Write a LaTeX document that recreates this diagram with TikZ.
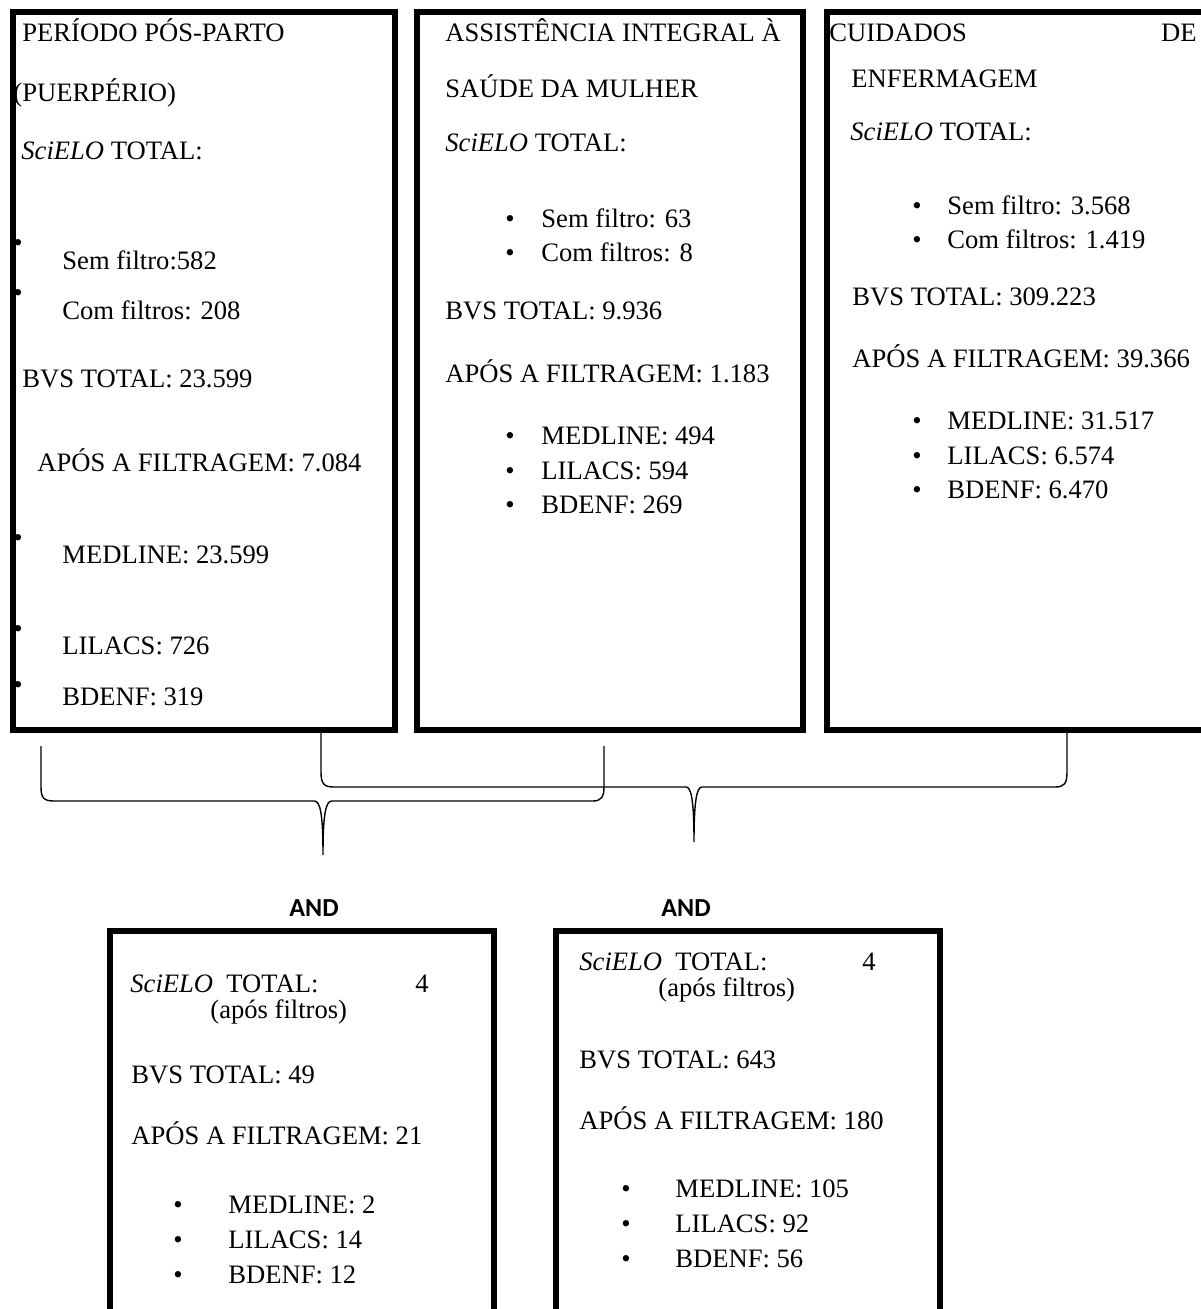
\documentclass[tikz,border=0pt]{standalone}
\usepackage{fontspec}
\setmainfont{Liberation Serif}
\newfontfamily\andfont{Carlito}
\usetikzlibrary{positioning}

\begin{document}
\begin{tikzpicture}[
    x=0.5pt, y=-0.5pt,
    every node/.style={font=\fontsize{13.3}{16}\selectfont},
    frame/.style={draw, line width=3pt, inner sep=0pt, minimum width=192pt},
    txt/.style={anchor=base west, inner sep=0pt},
    bul/.style={anchor=base, inner sep=0pt},
    andlabel/.style={anchor=base, inner sep=0pt, font=\andfont\bfseries\fontsize{13}{16}\selectfont},
    brace/.style={line width=0.7pt}
]
\useasboundingbox (0,0) rectangle (1200,1309);

% Search term boxes
\node[frame, minimum width=191pt, minimum height=358.5pt] (puerp) at (203.5,371) {};
\node[frame, minimum width=193pt, minimum height=358.5pt] (saude) at (609.5,371) {};
\node[frame, minimum width=194.25pt, minimum height=358.5pt] (cuidados) at (1020.75,371) {};

% Periodo pos-parto
\node[txt] (p1) at (22,42) {PERÍODO PÓS-PARTO};
\node[txt] (p2) at (13,102) {(PUERPÉRIO)};
\node[txt] (p3) at (21,160) {\textit{SciELO} TOTAL:};
\node[bul] (pb1) at (18,252) {•};
\node[txt] (p4) at (62,270) {Sem filtro:582};
\node[bul] (pb2) at (18,302) {•};
\node[txt] (p5) at (62,320) {Com filtros: 208};
\node[txt] (p6) at (22,388) {BVS TOTAL: 23.599};
\node[txt] (p7) at (37,472) {APÓS A FILTRAGEM: 7.084};
\node[bul] (pb3) at (18,546) {•};
\node[txt] (p8) at (62,563) {MEDLINE: 23.599};
\node[bul] (pb4) at (18,637) {•};
\node[txt] (p9) at (62,654) {LILACS: 726};
\node[bul] (pb5) at (18,693) {•};
\node[txt] (p10) at (62,705) {BDENF: 319};

% Assistencia integral
\node[txt] (s1) at (445,42) {ASSISTÊNCIA INTEGRAL À};
\node[txt] (s2) at (445,98) {SAÚDE DA MULHER};
\node[txt] (s3) at (445,152) {\textit{SciELO} TOTAL:};
\foreach \y/\t [count=\i] in {228/Sem filtro: 63, 262/Com filtros: 8, 445/MEDLINE: 494, 480/LILACS: 594, 513/BDENF: 269} {
  \node[bul] (sb\i) at (510,\y) {•};
  \node[txt] (sl\i) at (541,\y) {\t};
}
\node[txt] (s4) at (445,320) {BVS TOTAL: 9.936};
\node[txt] (s5) at (445,383) {APÓS A FILTRAGEM: 1.183};

% Cuidados de enfermagem
\node[txt] (c1) at (829,42) {CUIDADOS};
\node[anchor=base east, inner sep=0pt] (c1b) at (1197,42) {DE};
\node[txt] (c2) at (851,88) {ENFERMAGEM};
\node[txt] (c3) at (850,141) {\textit{SciELO} TOTAL:};
\foreach \y/\t [count=\i] in {215/Sem filtro: 3.568, 249/Com filtros: 1.419, 430/MEDLINE: 31.517, 465/LILACS: 6.574, 499/BDENF: 6.470} {
  \node[bul] (cb\i) at (917,\y) {•};
  \node[txt] (cl\i) at (947,\y) {\t};
}
\node[txt] (c4) at (852,306) {BVS TOTAL: 309.223};
\node[txt] (c5) at (852,368) {APÓS A FILTRAGEM: 39.366};

% Braces
\coordinate (tipA) at (323,855);
\coordinate (tipB) at (694,842);
\draw[brace] (41,746) -- (41,787) .. controls (41,798) and (44,801) .. (54,801) -- (314,801)
  .. controls (320,801) and (323,812) .. (tipA)
  .. controls (323,812) and (326,801) .. (332,801) -- (593,801)
  .. controls (601,801) and (604,797) .. (604,787) -- (604,746);
\draw[brace] (puerp.south -| 321,0) -- (321,772) .. controls (321,784) and (324,787) .. (334,787) -- (686,787)
  .. controls (691,787) and (694,799) .. (tipB)
  .. controls (694,799) and (697,787) .. (702,787) -- (1055,787)
  .. controls (1064,787) and (1067,784) .. (1067,772) -- (cuidados.south -| 1067,0);

% Combined searches
\node[andlabel] (and1) at (314,916) {AND};
\node[andlabel] (and2) at (686,916) {AND};
\node[frame, minimum height=199.5pt] (comb1) at (302,1130.5) {};
\node[frame, minimum height=199.5pt] (comb2) at (748,1130.5) {};

\node[txt] (a1) at (130,992) {\textit{SciELO}\ \ TOTAL:};
\node[txt] (a1n) at (415,992) {4};
\node[txt] (a2) at (210,1018) {(após filtros)};
\node[txt] (a3) at (131,1083) {BVS TOTAL: 49};
\node[txt] (a4) at (131,1144) {APÓS A FILTRAGEM: 21};
\foreach \y/\t [count=\i] in {1213/MEDLINE: 2, 1248/LILACS: 14, 1283/BDENF: 12} {
  \node[bul] (ab\i) at (178,\y) {•};
  \node[txt] (al\i) at (228,\y) {\t};
}

\node[txt] (e1) at (579,970) {\textit{SciELO}\ \ TOTAL:};
\node[txt] (e1n) at (862,970) {4};
\node[txt] (e2) at (658,996) {(após filtros)};
\node[txt] (e3) at (579,1068) {BVS TOTAL: 643};
\node[txt] (e4) at (579,1129) {APÓS A FILTRAGEM: 180};
\foreach \y/\t [count=\i] in {1197/MEDLINE: 105, 1232/LILACS: 92, 1267/BDENF: 56} {
  \node[bul] (eb\i) at (626,\y) {•};
  \node[txt] (el\i) at (675,\y) {\t};
}

\end{tikzpicture}
\end{document}
